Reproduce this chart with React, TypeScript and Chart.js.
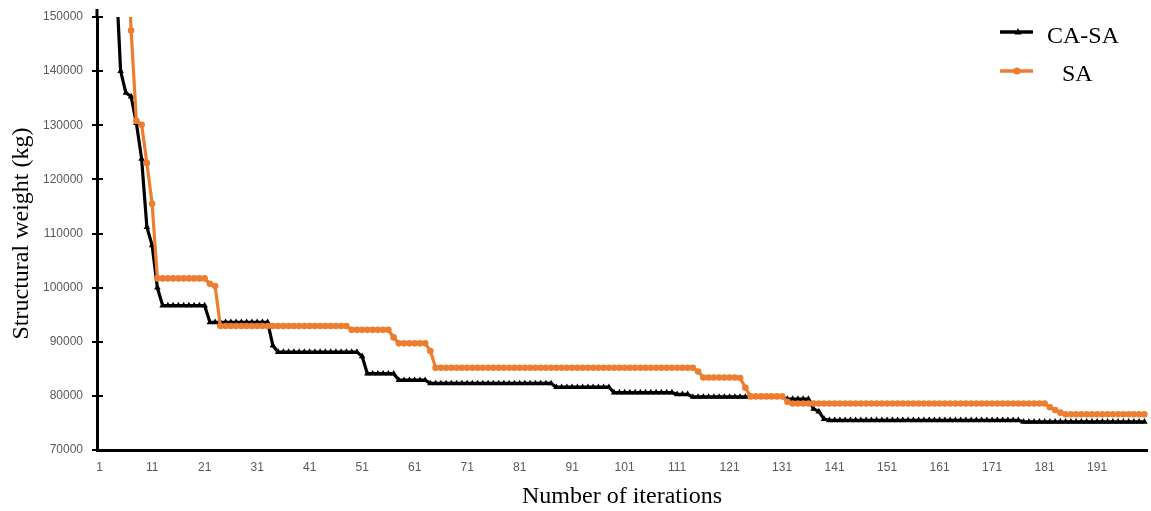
import React, { useEffect, useRef } from "react";
import { Chart, registerables } from "chart.js";

Chart.register(...registerables);

// Categories: iteration numbers 1..200
const iterations: string[] = Array.from({ length: 200 }, (_, i) => String(i + 1));

// Tick labels
const xTickLabels = ["1", "11", "21", "31", "41", "51", "61", "71", "81", "91", "101", "111", "121", "131", "141", "151", "161", "171", "181", "191"];
const yTickValues = [70000, 80000, 90000, 100000, 110000, 120000, 130000, 140000, 150000];

// Series: CA-SA (black, triangles)
const casaValues = [
  210000, 190000, 175000, 160000, 140000, 136000, 135300, 130400, 123800, 111200,
  107800, 100000, 96700, 96700, 96700, 96700, 96700, 96700, 96700, 96700,
  96700, 93600, 93600, 93600, 93600, 93600, 93600, 93600, 93600, 93600,
  93600, 93600, 93600, 89300, 88100, 88100, 88100, 88100, 88100, 88100,
  88100, 88100, 88100, 88100, 88100, 88100, 88100, 88100, 88100, 88100,
  87300, 84100, 84100, 84100, 84100, 84100, 84100, 82900, 82900, 82900,
  82900, 82900, 82900, 82300, 82300, 82300, 82300, 82300, 82300, 82300,
  82300, 82300, 82300, 82300, 82300, 82300, 82300, 82300, 82300, 82300,
  82300, 82300, 82300, 82300, 82300, 82300, 82300, 81600, 81600, 81600,
  81600, 81600, 81600, 81600, 81600, 81600, 81600, 81600, 80600, 80600,
  80600, 80600, 80600, 80600, 80600, 80600, 80600, 80600, 80600, 80600,
  80300, 80300, 80300, 79800, 79800, 79800, 79800, 79800, 79800, 79800,
  79800, 79800, 79800, 79800, 79800, 79800, 79800, 79800, 79800, 79800,
  79800, 79400, 79400, 79400, 79400, 79400, 77600, 77100, 75700, 75500,
  75500, 75500, 75500, 75500, 75500, 75500, 75500, 75500, 75500, 75500,
  75500, 75500, 75500, 75500, 75500, 75500, 75500, 75500, 75500, 75500,
  75500, 75500, 75500, 75500, 75500, 75500, 75500, 75500, 75500, 75500,
  75500, 75500, 75500, 75500, 75500, 75500, 75200, 75200, 75200, 75200,
  75200, 75200, 75200, 75200, 75200, 75200, 75200, 75200, 75200, 75200,
  75200, 75200, 75200, 75200, 75200, 75200, 75200, 75200, 75200, 75200,
];

// Series: SA (orange, circles)
const saValues = [
  215000, 205000, 195000, 185000, 177000, 169000, 147500, 130800, 130100, 123000,
  115500, 101700, 101700, 101700, 101700, 101700, 101700, 101700, 101700, 101700,
  101700, 100700, 100300, 92900, 92900, 92900, 92900, 92900, 92900, 92900,
  92900, 92900, 92900, 92900, 92900, 92900, 92900, 92900, 92900, 92900,
  92900, 92900, 92900, 92900, 92900, 92900, 92900, 92900, 92200, 92200,
  92200, 92200, 92200, 92200, 92200, 92200, 90800, 89700, 89700, 89700,
  89700, 89700, 89700, 88300, 85200, 85200, 85200, 85200, 85200, 85200,
  85200, 85200, 85200, 85200, 85200, 85200, 85200, 85200, 85200, 85200,
  85200, 85200, 85200, 85200, 85200, 85200, 85200, 85200, 85200, 85200,
  85200, 85200, 85200, 85200, 85200, 85200, 85200, 85200, 85200, 85200,
  85200, 85200, 85200, 85200, 85200, 85200, 85200, 85200, 85200, 85200,
  85200, 85200, 85200, 85200, 84500, 83400, 83400, 83400, 83400, 83400,
  83400, 83400, 83300, 81500, 79900, 79900, 79900, 79900, 79900, 79900,
  79900, 78900, 78600, 78600, 78600, 78600, 78600, 78600, 78600, 78600,
  78600, 78600, 78600, 78600, 78600, 78600, 78600, 78600, 78600, 78600,
  78600, 78600, 78600, 78600, 78600, 78600, 78600, 78600, 78600, 78600,
  78600, 78600, 78600, 78600, 78600, 78600, 78600, 78600, 78600, 78600,
  78600, 78600, 78600, 78600, 78600, 78600, 78600, 78600, 78600, 78600,
  78600, 77900, 77400, 76900, 76600, 76600, 76600, 76600, 76600, 76600,
  76600, 76600, 76600, 76600, 76600, 76600, 76600, 76600, 76600, 76600,
];

const ORANGE = "#ED7D31";
const SERIF = "'Liberation Serif', 'Times New Roman', serif";
const SANS = "'Liberation Sans', Arial, sans-serif";

const axisDecor = {
  id: "axisDecor",
  afterDraw(chart: any) {
    const { ctx, chartArea, scales } = chart;
    const y = scales.y;
    ctx.save();
    ctx.strokeStyle = "#000";
    ctx.lineWidth = 2;
    y.ticks.forEach((t: any) => {
      const py = Math.round(y.getPixelForValue(t.value));
      ctx.beginPath();
      ctx.moveTo(chartArea.left - 5, py);
      ctx.lineTo(chartArea.left + 6, py);
      ctx.stroke();
    });
    ctx.lineWidth = 3;
    ctx.beginPath();
    ctx.moveTo(chartArea.left, chartArea.top - 8);
    ctx.lineTo(chartArea.left, chartArea.top);
    ctx.stroke();
    ctx.restore();
  },
};

export default function App() {
  const canvasRef = useRef<HTMLCanvasElement | null>(null);

  useEffect(() => {
    if (!canvasRef.current) return;
    const chart = new Chart(canvasRef.current, {
      type: "line",
      data: {
        labels: iterations,
        datasets: [
          {
            label: "CA-SA",
            data: casaValues,
            borderColor: "#000",
            backgroundColor: "#000",
            pointBackgroundColor: "#000",
            pointBorderColor: "#000",
            borderWidth: 3.2,
            pointStyle: "triangle",
            pointRadius: 3.8,
            pointBorderWidth: 0,
            tension: 0,
            order: 2,
          },
          {
            label: "SA",
            data: saValues,
            borderColor: ORANGE,
            backgroundColor: ORANGE,
            pointBackgroundColor: ORANGE,
            pointBorderColor: ORANGE,
            borderWidth: 3.2,
            pointStyle: "circle",
            pointRadius: 3.3,
            pointBorderWidth: 0,
            tension: 0,
            order: 1,
          },
        ],
      },
      options: {
        responsive: false,
        animation: false,
        layout: { padding: { top: 17, right: 1, left: 0, bottom: 0 } },
        plugins: {
          legend: { display: false },
          tooltip: { enabled: false },
        },
        scales: {
          x: {
            type: "category",
            offset: true,
            grid: { display: false, drawTicks: false },
            border: { display: true, color: "#000", width: 3 },
            ticks: {
              autoSkip: false,
              minRotation: 0,
              maxRotation: 0,
              padding: 10,
              color: "#595959",
              font: { family: SANS, size: 12 },
              callback: function (this: any, value: any) {
                const lab = this.getLabelForValue(value);
                return xTickLabels.includes(lab) ? lab : "";
              },
            },
            title: {
              display: true,
              text: "Number of iterations",
              color: "#000",
              font: { family: SERIF, size: 24 },
              padding: { top: 0, bottom: 0 },
            },
            afterFit: (s: any) => {
              s.height = 61;
              s.paddingLeft = 0;
              s.paddingRight = 0;
            },
          },
          y: {
            min: 70000,
            max: 150000,
            afterBuildTicks: (s: any) => {
              s.ticks = yTickValues.map((v) => ({ value: v }));
            },
            grid: { display: false, drawTicks: false },
            border: { display: true, color: "#000", width: 3 },
            ticks: {
              padding: 14,
              color: "#595959",
              font: { family: SANS, size: 12 },
              callback: (v: any) => String(v),
            },
            title: {
              display: true,
              text: "Structural weight (kg)",
              color: "#000",
              font: { family: SERIF, size: 24 },
              padding: { top: 7, bottom: 0 },
            },
            afterFit: (s: any) => {
              s.width = 97;
              s.paddingTop = 0;
              s.paddingBottom = 0;
            },
          },
        },
      },
      plugins: [axisDecor],
    });
    return () => chart.destroy();
  }, []);

  const legendText: React.CSSProperties = {
    position: "absolute",
    fontFamily: SERIF,
    fontSize: 24,
    lineHeight: "24px",
    color: "#000",
    whiteSpace: "pre",
  };

  return (
    <div style={{ position: "absolute", left: 0, top: 0, width: 1151, height: 511, background: "#fff" }}>
      <canvas ref={canvasRef} width={1151} height={511} style={{ display: "block" }} />
      <svg
        width={40}
        height={90}
        style={{ position: "absolute", left: 996, top: 0 }}
      >
        <line x1={4} y1={32} x2={37} y2={32} stroke="#000" strokeWidth={3.5} />
        <polygon points="22,28 18.5,34.5 25.5,34.5" fill="#000" />
        <line x1={4} y1={71} x2={37} y2={71} stroke={ORANGE} strokeWidth={3.5} />
        <circle cx={21} cy={71} r={3.6} fill={ORANGE} />
      </svg>
      <div style={{ ...legendText, left: 1047, top: 22.5 }}>CA-SA</div>
      <div style={{ ...legendText, left: 1062, top: 61 }}>SA</div>
    </div>
  );
}
